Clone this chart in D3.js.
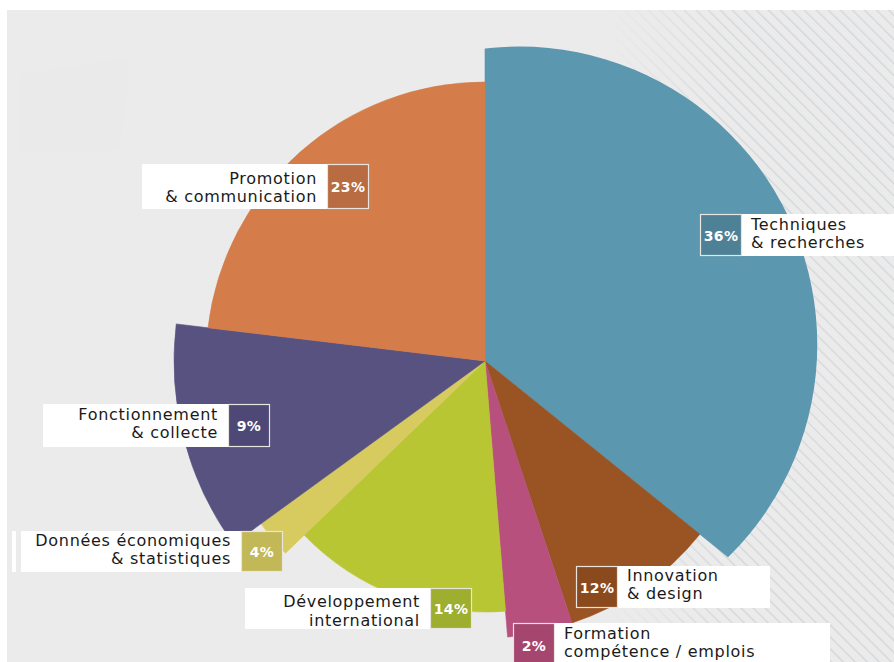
<!DOCTYPE html>
<html><head><meta charset="utf-8">
<script src="https://cdn.jsdelivr.net/npm/d3@7"></script>
<style>html,body{margin:0;padding:0;background:#fff;}svg{display:block;}</style>
</head><body>
<script>
// ---------- data ----------
const categories = ["Techniques & recherches","Innovation & design","Formation compétence / emplois","Développement international","Données économiques & statistiques","Fonctionnement & collecte","Promotion & communication"];
const labelLines = [["Techniques","& recherches"],["Innovation","& design"],["Formation","compétence / emplois"],["Développement","international"],["Données économiques","& statistiques"],["Fonctionnement","& collecte"],["Promotion","& communication"]];
const percents = [36,12,2,14,4,9,23];
// angular share of each slice as drawn in the picture (%)
const drawnShares = [35.8,9.1,3.8,14.1,2.2,11.9,23.1];

// ---------- styles / layout ----------
const sliceColors = ["#5b97ae","#9a5322","#b8507d","#b8c634","#d7cb60","#575280","#d57c4b"];
const boxColors   = ["#4f8196","#8b4a1d","#a5466f","#9eae2f","#c3b858","#4d4875","#b96b41"];
const sliceStyle = [
  {r:298, explode:38}, {r:276, explode:0}, {r:277, explode:0}, {r:251, explode:0},
  {r:277, explode:0}, {r:311, explode:0}, {r:279, explode:0}
];
const labelLayout = [
  {side:"right", bx:700, by:214, bh:42, wEnd:894, ty:230.5},
  {side:"right", bx:576, by:566, bh:42, wEnd:770, ty:581.5},
  {side:"right", bx:513, by:623, bh:44, wEnd:830, ty:639.5},
  {side:"left",  bx:430, by:588, bh:41, wStart:245, ty:608},
  {side:"left",  bx:241, by:531, bh:41, wStart:21, ty:546.5},
  {side:"left",  bx:228, by:404, bh:43, wStart:43, ty:420.5},
  {side:"left",  bx:327, by:164, bh:45, wStart:142, ty:184.5}
];
const W = 894, H = 662, cx = 485, cy = 361, boxW = 42;
const FONT = "'DejaVu Sans', sans-serif";

const svg = d3.select("body").append("svg").attr("width", W).attr("height", H);
const defs = svg.append("defs");

// background
svg.append("rect").attr("width", W).attr("height", H).attr("fill", "#ffffff");
svg.append("rect").attr("x", 7).attr("y", 10).attr("width", W - 7).attr("height", H - 10).attr("fill", "#ebebeb");

// striped area on the right
const pat = defs.append("pattern").attr("id","stripes").attr("patternUnits","userSpaceOnUse")
  .attr("width", 8.5).attr("height", 8.5).attr("patternTransform","rotate(-45)");
pat.append("rect").attr("x",0).attr("y",0).attr("width",1.3).attr("height",8.5).attr("fill","#d3d6da");
const grad = defs.append("linearGradient").attr("id","fade").attr("x1","0").attr("x2","1").attr("y1","0").attr("y2","0");
grad.append("stop").attr("offset","0").attr("stop-color","#fff").attr("stop-opacity",0);
grad.append("stop").attr("offset","0.4").attr("stop-color","#fff").attr("stop-opacity",1);
grad.append("stop").attr("offset","1").attr("stop-color","#fff").attr("stop-opacity",1);
const mask = defs.append("mask").attr("id","fadeMask");
mask.append("rect").attr("x",610).attr("y",10).attr("width",W-610).attr("height",H-10).attr("fill","url(#fade)");
svg.append("rect").attr("x",610).attr("y",10).attr("width",W-610).attr("height",H-10)
  .attr("fill","url(#stripes)").attr("mask","url(#fadeMask)");

// faint watermark shapes
svg.append("path").attr("d","M20 75 L130 58 L120 150 L20 152 Z").attr("fill","#e7e7e7").attr("opacity",0.35);
svg.append("rect").attr("x",12).attr("y",531).attr("width",4).attr("height",41).attr("fill","#ffffff");

// ---------- pie ----------
const pie = d3.pie().sort(null).value(d => d.share).startAngle(0).endAngle(2*Math.PI);
const rows = categories.map((c,i) => ({cat:c, share:drawnShares[i], pct:percents[i], i}));
const arcs = pie(rows);
const arcPlain = d3.arc().innerRadius(0).outerRadius(d => sliceStyle[d.data.i].r);
const arcWide  = d3.arc().innerRadius(0).outerRadius(420);

const pg = svg.append("g").attr("transform", `translate(${cx},${cy})`);
arcs.forEach(d => {
  const st = sliceStyle[d.data.i];
  if (st.explode > 0) {
    const mid = (d.startAngle + d.endAngle) / 2;
    const ox = st.explode * Math.sin(mid), oy = -st.explode * Math.cos(mid);
    const id = "clip" + d.data.i;
    defs.append("clipPath").attr("id", id)
      .append("circle").attr("cx", cx + ox).attr("cy", cy + oy).attr("r", st.r);
    svg.insert("g", () => pg.node()).attr("clip-path", `url(#${id})`)
      .append("path").attr("transform", `translate(${cx},${cy})`)
      .attr("d", arcWide(d)).attr("fill", sliceColors[d.data.i])
      .attr("stroke", sliceColors[d.data.i]).attr("stroke-width", 0.6);
  } else {
    pg.append("path").attr("d", arcPlain(d))
      .attr("fill", sliceColors[d.data.i])
      .attr("stroke", sliceColors[d.data.i]).attr("stroke-width", 0.6);
  }
});

// ---------- labels ----------
const lg = svg.append("g");
rows.forEach((r,i) => {
  const L = labelLayout[i];
  const g = lg.append("g");
  const x0 = L.side === "right" ? L.bx : L.wStart;
  const x1 = L.side === "right" ? L.wEnd : L.bx + boxW;
  g.append("rect").attr("x", x0).attr("y", L.by).attr("width", x1 - x0).attr("height", L.bh).attr("fill", "#ffffff");
  g.append("rect").attr("x", L.bx + 0.5).attr("y", L.by + 0.5).attr("width", boxW - 1).attr("height", L.bh - 1)
    .attr("fill", boxColors[i]).attr("stroke", "#e8e4e0").attr("stroke-width", 1.2);
  g.append("text").attr("x", L.bx + boxW/2).attr("y", L.by + L.bh/2 + 5.5)
    .attr("text-anchor","middle").attr("fill","#ffffff").attr("font-family", FONT)
    .attr("font-weight","bold").attr("font-size", 14).attr("letter-spacing", 0.4)
    .text(r.pct + "%");
  const tx = L.side === "right" ? L.bx + boxW + 9 : L.bx - 10;
  const t = g.append("text").attr("x", tx).attr("y", L.ty - 0.9)
    .attr("text-anchor", L.side === "right" ? "start" : "end")
    .attr("fill", "#1a1a1a").attr("font-family", FONT).attr("font-size", 16).attr("letter-spacing", 0.7);
  labelLines[i].forEach((ln,k) => {
    t.append("tspan").attr("x", tx).attr("dy", k === 0 ? 0 : 18.7).text(ln);
  });
});
</script>
</body></html>
